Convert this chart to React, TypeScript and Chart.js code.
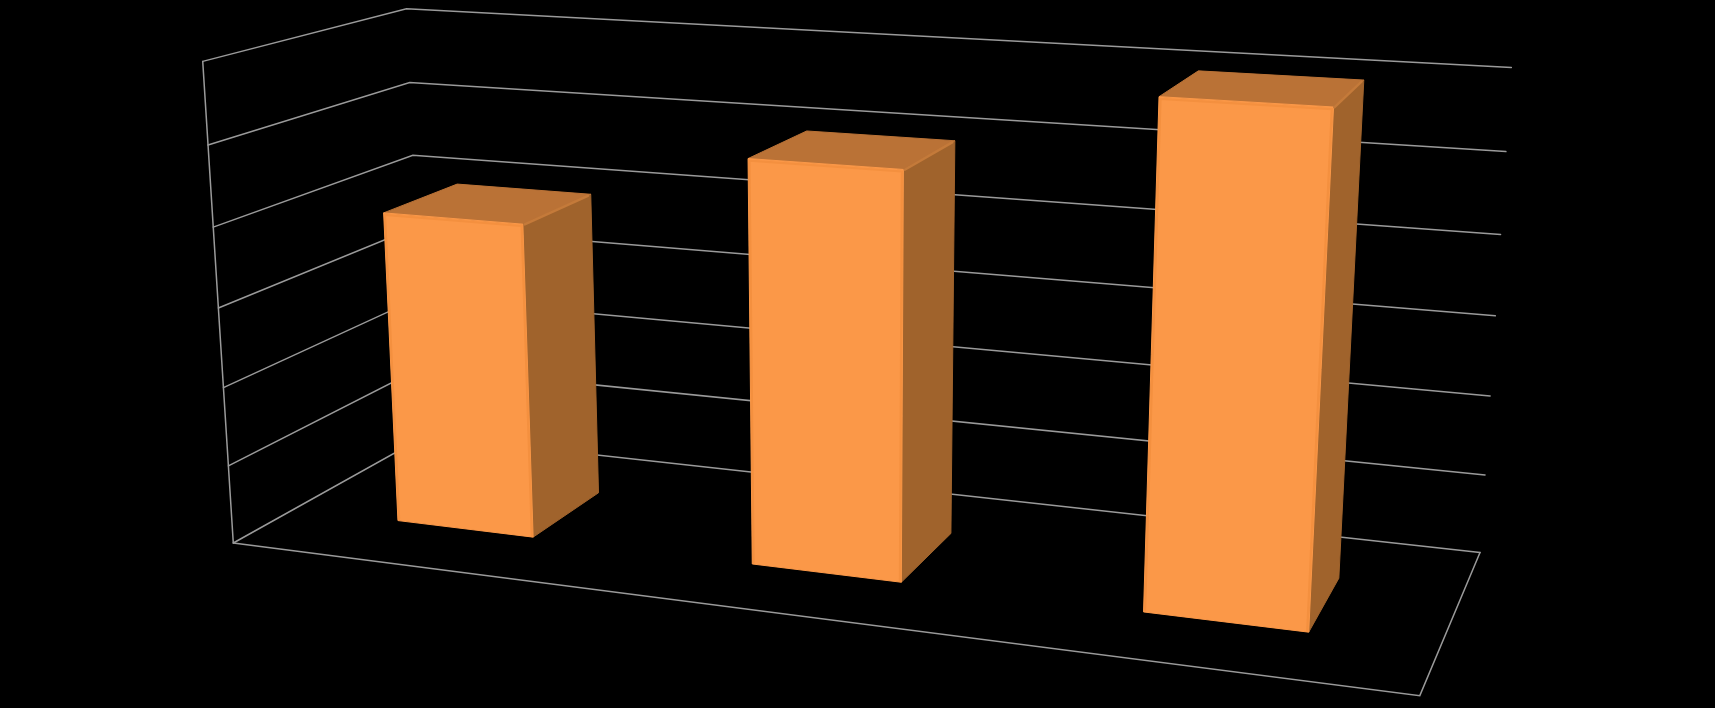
import React, { useEffect, useRef } from "react";
import { Chart, registerables } from "chart.js";

Chart.register(...registerables);

// Data
const categories = ["1", "2", "3"];
const barValues = [3.99, 4.99, 6];
const gridLevels = [0, 1, 2, 3, 4, 5, 6];
const axisMax = 6;

// Bar footprint in the 3D box
const barWidthShare = 0.393;
const barShift = 0.001;
const depthFront = 0.3;
const depthBack = 0.69;

// Colours
const frontColor = "#fb9848";
const topColor = "#ba7236";
const sideColor = "#a0632c";
const frontEdge = "#f4903f";
const topEdge = "#c47a3a";
const gridColor = "#9a9a9a";

// Perspective projection of (u across, w deep, v up) onto the page
function project(u: number, w: number, v: number) {
  const d = -0.14524 * u + 0.13293 * w - 0.047 * v + 1;
  return {
    x: (980.3 * u + 248.2 * w - 40.1 * v + 233.3) / d,
    y: (51.6 * u - 48.9 * w - 484.5 * v + 2.2 * u * v + 543) / d,
  };
}

function line(points: { x: number; y: number }[], color: string, width: number) {
  return {
    type: "line" as const,
    data: points,
    borderColor: color,
    borderWidth: width,
    pointRadius: 0,
    fill: false,
    tension: 0,
    borderCapStyle: "round" as const,
  };
}

function face(points: { x: number; y: number }[], color: string) {
  return {
    type: "line" as const,
    data: [...points, points[0]],
    borderColor: color,
    borderWidth: 1,
    backgroundColor: color,
    pointRadius: 0,
    fill: "shape",
    tension: 0,
  };
}

function buildDatasets() {
  const out: any[] = [];
  // frame
  gridLevels.forEach((g) => {
    const v = g / axisMax;
    out.push(line([project(0, 0, v), project(0, 1, v), project(1, 1, v)], gridColor, 1.5));
  });
  out.push(line([project(0, 0, 0), project(0, 0, 1)], gridColor, 1.5));
  out.push(line([project(0, 0, 0), project(1, 0, 0), project(1, 1, 0)], gridColor, 1.5));
  // bars
  barValues.forEach((val, i) => {
    const c = (i + 0.5) / categories.length + barShift;
    const hw = barWidthShare / categories.length / 2;
    const u0 = c - hw;
    const u1 = c + hw;
    const v = val / axisMax;
    const w0 = depthFront;
    const w1 = depthBack;
    const inset = 0.0012;
    out.push(face([project(u1, w0, 0), project(u1, w1, 0), project(u1, w1, v), project(u1, w0, v)], sideColor));
    out.push(face([project(u0, w0, v), project(u1, w0, v), project(u1, w1, v), project(u0, w1, v)], topColor));
    out.push(face([project(u0, w0, 0), project(u1, w0, 0), project(u1, w0, v), project(u0, w0, v)], frontColor));
    out.push(line([project(u1, w0 + 0.01, v - 0.002), project(u1 - inset, w1 - 0.01, v - 0.002)], topEdge, 2.5));
    out.push(
      line(
        [project(u0 + inset, w0, 0.004), project(u0 + inset, w0, v - 0.004), project(u1 - inset, w0, v - 0.004), project(u1 - inset, w0, 0.002)],
        frontEdge,
        2.2,
      ),
    );
  });
  const n = out.length;
  out.forEach((d, i) => (d.order = n - i));
  return out;
}

export default function App() {
  const ref = useRef<HTMLCanvasElement>(null);
  useEffect(() => {
    const chart = new Chart(ref.current!, {
      type: "line",
      data: { datasets: buildDatasets() },
      options: {
        responsive: false,
        animation: false,
        parsing: false,
        layout: { padding: 0 },
        plugins: { legend: { display: false }, tooltip: { enabled: false }, title: { display: false } },
        scales: {
          x: { type: "linear", min: 0, max: 1715, display: false },
          y: { type: "linear", min: 0, max: 708, reverse: true, display: false },
        },
      },
    } as any);
    return () => chart.destroy();
  }, []);
  return (
    <>
      <style>{`html,body{margin:0;padding:0;background:#000}`}</style>
      <canvas ref={ref} width={1715} height={708} style={{ display: "block", background: "#000" }} />
    </>
  );
}
